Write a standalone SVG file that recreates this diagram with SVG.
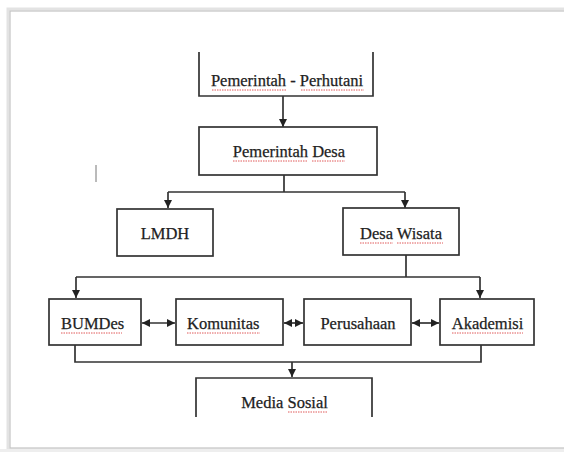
<svg xmlns="http://www.w3.org/2000/svg" width="564" height="452" viewBox="0 0 564 452">
<defs>
<style>
.box{fill:#fff;stroke:#333;stroke-width:1.7}
.open{fill:none;stroke:#333;stroke-width:1.7}
.line{fill:none;stroke:#333;stroke-width:1.7}
.lbl{font-family:"Liberation Serif","Times New Roman",serif;font-size:16.5px;fill:#222;stroke:#222;stroke-width:0.25}
.sp{fill:none;stroke:#e05a5a;stroke-width:1;stroke-dasharray:1.5 1}
</style>
<marker id="ahb" viewBox="0 0 10 10" refX="10" refY="5" markerWidth="8" markerHeight="8" orient="auto-start-reverse" markerUnits="userSpaceOnUse">
<path d="M0,0 L10,5 L0,10 Z" fill="#222"/>
</marker>
</defs>
<rect x="0" y="0" width="564" height="452" fill="#ffffff"/>
<g id="page">
<rect x="8" y="9" width="560" height="441" fill="none" stroke="#e3e3e3" stroke-width="3"/>
<rect x="10" y="11" width="558" height="437" fill="#ffffff" stroke="#c4c4c4" stroke-width="1.2"/>
<rect x="0" y="449" width="564" height="3" fill="#eeeeee"/>
<line x1="96" y1="165" x2="96" y2="182" stroke="#777" stroke-width="1"/>
</g>
<g id="connectors">
<line class="line" x1="283" y1="96" x2="283" y2="127" marker-end="url(#ahb)"/>
<path class="line" d="M284,175 V192 M168,192 H405"/>
<line class="line" x1="168" y1="192" x2="168" y2="208" marker-end="url(#ahb)"/>
<line class="line" x1="405" y1="192" x2="405" y2="208" marker-end="url(#ahb)"/>
<path class="line" d="M406,255 V277 M76,277 H480"/>
<line class="line" x1="76" y1="277" x2="76" y2="298" marker-end="url(#ahb)"/>
<line class="line" x1="480" y1="277" x2="480" y2="298" marker-end="url(#ahb)"/>
<line class="line" x1="142" y1="323" x2="175" y2="323" marker-start="url(#ahb)" marker-end="url(#ahb)"/>
<line class="line" x1="284" y1="323" x2="303" y2="323" marker-start="url(#ahb)" marker-end="url(#ahb)"/>
<line class="line" x1="412" y1="323" x2="439" y2="323" marker-start="url(#ahb)" marker-end="url(#ahb)"/>
<path class="line" d="M75,345 V362 H481 V345"/>
<line class="line" x1="292" y1="362" x2="292" y2="377" marker-end="url(#ahb)"/>
</g>
<g id="pemerintah-perhutani">
<path class="open" d="M199,52 V96 H373 V52"/>
<text class="lbl" x="287" y="86" text-anchor="middle">Pemerintah - Perhutani</text>
<path class="sp" d="M212,90 H287 M301,90 H364"/>
</g>
<g id="pemerintah-desa">
<rect class="box" x="199" y="127" width="178" height="48"/>
<text class="lbl" x="289" y="157" text-anchor="middle">Pemerintah Desa</text>
<path class="sp" d="M233,161 H308 M312,161 H345"/>
</g>
<g id="lmdh">
<rect class="box" x="117" y="209" width="96" height="47"/>
<text class="lbl" x="165" y="239" text-anchor="middle">LMDH</text>
</g>
<g id="desa-wisata">
<rect class="box" x="343" y="208" width="116" height="47"/>
<text class="lbl" x="401" y="239" text-anchor="middle">Desa Wisata</text>
<path class="sp" d="M360,243 H393 M397,243 H443"/>
</g>
<g id="bumdes">
<rect class="box" x="49" y="299" width="92" height="46"/>
<text class="lbl" x="61" y="329">BUMDes</text>
<path class="sp" d="M61,333 H122"/>
</g>
<g id="komunitas">
<rect class="box" x="176" y="299" width="107" height="46"/>
<text class="lbl" x="187" y="329">Komunitas</text>
<path class="sp" d="M187,333 H260"/>
</g>
<g id="perusahaan">
<rect class="box" x="304" y="299" width="107" height="46"/>
<text class="lbl" x="358" y="329" text-anchor="middle">Perusahaan</text>
</g>
<g id="akademisi">
<rect class="box" x="440" y="299" width="94" height="46"/>
<text class="lbl" x="487.5" y="329" text-anchor="middle">Akademisi</text>
<path class="sp" d="M452,333 H523"/>
</g>
<g id="media-sosial">
<path class="open" d="M196,417 V378 H372 V417"/>
<text class="lbl" x="284.5" y="408" text-anchor="middle">Media Sosial</text>
<path class="sp" d="M288,412 H327"/>
</g>
</svg>
